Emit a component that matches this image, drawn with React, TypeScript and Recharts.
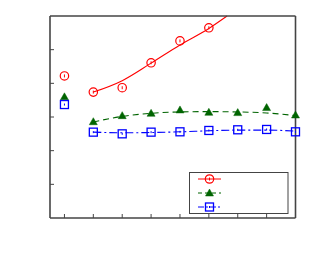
import React from 'react';
import { LineChart, Line, XAxis, YAxis, Customized } from 'recharts';

const xTicks = [0, 1, 2, 3, 4, 5, 6, 7];
const yTicks = [1, 2, 3, 4, 5];

const markX = [0, 1, 2, 3, 4, 5, 6, 7, 8];
const redMarks = [4.22, 3.74, 3.87, 4.61, 5.26, 5.65, null, null, null];
const greenMarks = [3.6, 2.86, 3.04, 3.11, 3.21, 3.14, 3.13, 3.28, 3.06];
const blueMarks = [3.37, 2.55, 2.5, 2.55, 2.56, 2.6, 2.62, 2.63, 2.56];

const redFitX = [1, 2, 3, 4, 5, 5.63];
const redFit = [3.74, 4.08, 4.6, 5.14, 5.63, 6.0];
const fitX = [1, 2, 3, 4, 5, 6, 7, 8];
const greenFit = [2.85, 3.02, 3.11, 3.15, 3.16, 3.15, 3.12, 3.04];
const blueFit = [2.55, 2.53, 2.54, 2.56, 2.59, 2.61, 2.61, 2.58];

const RED = '#ff0000';
const GREEN = '#006400';
const BLUE = '#0000ff';
const FRAME = '#444444';

const toRows = (xs: number[], ys: (number | null)[]) =>
  xs.map((x, i) => ({ x, y: ys[i] })).filter((r) => r.y !== null);

const CircleDot = (p: any) => {
  const { cx, cy } = p;
  if (cx == null || cy == null) return <g key={p.key} />;
  return (
    <g key={p.key}>
      <circle cx={cx} cy={cy} r={4.2} fill="none" stroke={RED} strokeWidth={1.2} />
      <line x1={cx} y1={cy - 1.5} x2={cx} y2={cy + 1.5} stroke={RED} strokeWidth={1} />
    </g>
  );
};

const TriDot = (p: any) => {
  const { cx, cy } = p;
  if (cx == null || cy == null) return <g key={p.key} />;
  return (
    <polygon
      key={p.key}
      points={`${cx},${cy - 4} ${cx - 4},${cy + 3} ${cx + 4},${cy + 3}`}
      fill={GREEN}
      stroke={GREEN}
      strokeWidth={0.5}
    />
  );
};

const SquareDot = (p: any) => {
  const { cx, cy } = p;
  if (cx == null || cy == null) return <g key={p.key} />;
  return (
    <g key={p.key}>
      <rect x={cx - 4} y={cy - 4} width={8} height={8} fill="none" stroke={BLUE} strokeWidth={1.3} />
      <rect x={cx - 0.5} y={cy - 1} width={1} height={2} fill={BLUE} />
    </g>
  );
};

const legendItems = [
  { color: RED, dash: undefined as string | undefined, Dot: CircleDot },
  { color: GREEN, dash: '4 3', Dot: TriDot },
  { color: BLUE, dash: '6 2 2 2', Dot: SquareDot },
];

const LegendBox = () => (
  <g>
    <rect x={189.5} y={172.5} width={98.5} height={41} fill="#ffffff" stroke={FRAME} strokeWidth={1} />
    {legendItems.map((it, i) => {
      const y = 179 + i * 14;
      const D = it.Dot;
      return (
        <g key={i}>
          <line x1={198} y1={y} x2={221} y2={y} stroke={it.color} strokeWidth={1} strokeDasharray={it.dash} />
          <D cx={209.5} cy={y} key={'d' + i} />
        </g>
      );
    })}
  </g>
);

const axisLine = { stroke: FRAME, strokeWidth: 1.6 };
const tickLine = { stroke: FRAME, strokeWidth: 1 };
const noLabel = () => <g />;

export default function App() {
  return (
    <div style={{ position: 'absolute', left: 0, top: 0, width: 313, height: 263, background: '#fff' }}>
      <LineChart width={313} height={263} margin={{ top: 16, left: 50, right: 17.5, bottom: 45 }}>
        <XAxis xAxisId="b" dataKey="x" type="number" domain={[-0.5, 8]} ticks={xTicks} orientation="bottom"
          height={1} mirror tick={noLabel} tickSize={4} axisLine={axisLine} tickLine={tickLine} />
        <XAxis xAxisId="t" dataKey="x" type="number" domain={[-0.5, 8]} ticks={xTicks} orientation="top"
          height={1} mirror tick={noLabel} tickSize={4} axisLine={axisLine} tickLine={tickLine} />
        <YAxis yAxisId="l" type="number" domain={[0, 6]} ticks={yTicks} orientation="left"
          width={1} mirror tick={noLabel} tickSize={4} axisLine={axisLine} tickLine={tickLine} />
        <YAxis yAxisId="r" type="number" domain={[0, 6]} ticks={yTicks} orientation="right"
          width={1} mirror tick={noLabel} tickSize={4} axisLine={axisLine} tickLine={tickLine} />
        <Line xAxisId="b" yAxisId="l" data={toRows(redFitX, redFit)} dataKey="y" type="monotone" stroke={RED} strokeWidth={1.1} dot={false} isAnimationActive={false} />
        <Line xAxisId="b" yAxisId="l" data={toRows(fitX, greenFit)} dataKey="y" type="monotone" stroke={GREEN} strokeWidth={1.1} strokeDasharray="6 4" dot={false} isAnimationActive={false} />
        <Line xAxisId="b" yAxisId="l" data={toRows(fitX, blueFit)} dataKey="y" type="monotone" stroke={BLUE} strokeWidth={1.1} strokeDasharray="8 3 2 3" dot={false} isAnimationActive={false} />
        <Line xAxisId="b" yAxisId="l" data={toRows(markX, redMarks)} dataKey="y" stroke="none" dot={CircleDot} isAnimationActive={false} />
        <Line xAxisId="b" yAxisId="l" data={toRows(markX, greenMarks)} dataKey="y" stroke="none" dot={TriDot} isAnimationActive={false} />
        <Line xAxisId="b" yAxisId="l" data={toRows(markX, blueMarks)} dataKey="y" stroke="none" dot={SquareDot} isAnimationActive={false} />
        <Customized component={LegendBox} />
      </LineChart>
    </div>
  );
}
